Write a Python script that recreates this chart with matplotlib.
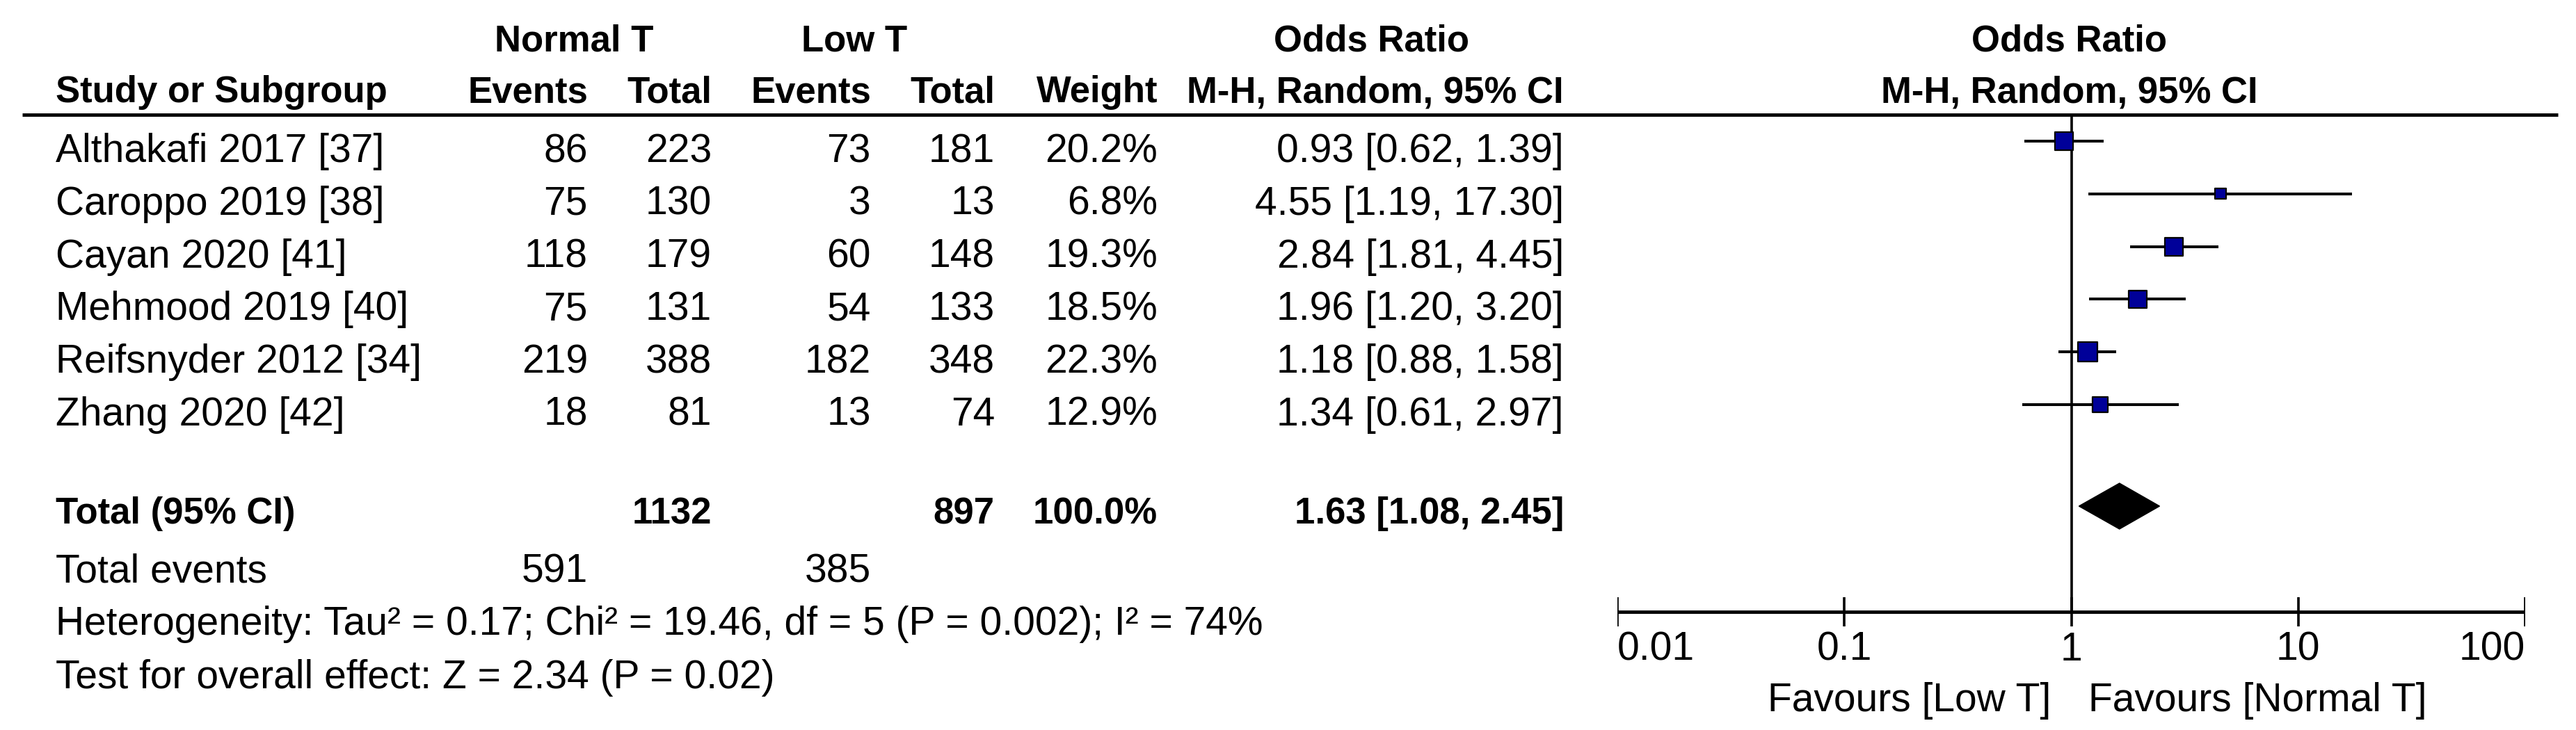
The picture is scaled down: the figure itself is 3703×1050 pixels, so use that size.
import numpy as np
import matplotlib
matplotlib.use("Agg")
import matplotlib.pyplot as plt

plt.rcParams['font.family'] = ['Liberation Sans', 'DejaVu Sans']

# study level data
studies = ["Althakafi 2017 [37]", "Caroppo 2019 [38]", "Cayan 2020 [41]",
           "Mehmood 2019 [40]", "Reifsnyder 2012 [34]", "Zhang 2020 [42]"]
normal_events = [86, 75, 118, 75, 219, 18]
normal_total = [223, 130, 179, 131, 388, 81]
low_events = [73, 3, 60, 54, 182, 13]
low_total = [181, 13, 148, 133, 348, 74]
weights = [20.2, 6.8, 19.3, 18.5, 22.3, 12.9]
odds = [0.93, 4.55, 2.84, 1.96, 1.18, 1.34]
ci_low = [0.62, 1.19, 1.81, 1.20, 0.88, 0.61]
ci_high = [1.39, 17.30, 4.45, 3.20, 1.58, 2.97]

# pooled result
total_or = 1.63
total_ci = [1.08, 2.45]
total_n = [1132, 897]
total_ev = [591, 385]
total_weight = 100.0
het_text = "Heterogeneity: Tau\u00b2 = 0.17; Chi\u00b2 = 19.46, df = 5 (P = 0.002); I\u00b2 = 74%"
effect_text = "Test for overall effect: Z = 2.34 (P = 0.02)"

axis_ticks = [0.01, 0.1, 1, 10, 100]
axis_labels = ["0.01", "0.1", "1", "10", "100"]

W, H = 3703, 1050
FS = 41
FSB = 38

fig = plt.figure(figsize=(W / 100, H / 100), dpi=100)
ax = fig.add_axes([0, 0, 1, 1])
ax.set_xlim(0, W)
ax.set_ylim(H, 0)
ax.axis('off')


def put(x, y, s, ha='left', bold=False):
    # y is the middle of the capitals, text sits on its baseline
    ax.text(x, y + 20, s, ha=ha, va='baseline',
            fontsize=FSB if bold else FS,
            fontweight='bold' if bold else 'normal')


# column right edges (pixels)
c_name = 80
c_nev, c_ntot, c_lev, c_ltot, c_w, c_ci = 845, 1023, 1252, 1430, 1664, 2248

# header
put(825, 54, "Normal T", 'center', True)
put(1228, 54, "Low T", 'center', True)
put(1972, 54, "Odds Ratio", 'center', True)
put(2975, 54, "Odds Ratio", 'center', True)
put(c_name, 127, "Study or Subgroup", 'left', True)
put(c_nev, 127, "Events", 'right', True)
put(c_ntot, 127, "Total", 'right', True)
put(c_lev, 127, "Events", 'right', True)
put(c_ltot, 127, "Total", 'right', True)
put(c_w, 127, "Weight", 'right', True)
put(c_ci, 127, "M-H, Random, 95% CI", 'right', True)
put(2975, 127, "M-H, Random, 95% CI", 'center', True)
ax.plot([32, 3677], [165, 165], color='black', lw=3.5, solid_capstyle='butt')

row_y = 213 + 75.8 * np.arange(len(studies))
for i, y in enumerate(row_y):
    put(c_name, y, studies[i])
    put(c_nev, y, str(normal_events[i]), 'right')
    put(c_ntot, y, str(normal_total[i]), 'right')
    put(c_lev, y, str(low_events[i]), 'right')
    put(c_ltot, y, str(low_total[i]), 'right')
    put(c_w, y, f"{weights[i]:.1f}%", 'right')
    put(c_ci, y, f"{odds[i]:.2f} [{ci_low[i]:.2f}, {ci_high[i]:.2f}]", 'right')

# totals
put(c_name, 733, "Total (95% CI)", 'left', True)
put(c_ntot, 733, str(total_n[0]), 'right', True)
put(c_ltot, 733, str(total_n[1]), 'right', True)
put(c_w, 733, f"{total_weight:.1f}%", 'right', True)
put(c_ci, 733, f"{total_or:.2f} [{total_ci[0]:.2f}, {total_ci[1]:.2f}]", 'right', True)
put(c_name, 817, "Total events")
put(c_nev, 817, str(total_ev[0]), 'right')
put(c_lev, 817, str(total_ev[1]), 'right')
put(c_name, 893, het_text)
put(c_name, 970, effect_text)

# forest plot on a log axis
fax = fig.add_axes([2325 / W, 0, 1305 / W, 1])
fax.set_xscale('log')
fax.set_xlim(0.01, 100)
fax.set_ylim(H, 0)
fax.axis('off')
fax.patch.set_alpha(0)

mark_y = row_y - 10
fax.hlines(mark_y, ci_low, ci_high, color='black', lw=2.9, zorder=2)
side = 5.9 * np.sqrt(weights) * 0.72
fax.scatter(odds, mark_y, marker='s', s=side ** 2, c='#000099',
            edgecolors='black', linewidths=1.6, zorder=3)

fax.vlines(1, 165, 880, color='black', lw=2.6, zorder=1)

# pooled diamond
fax.fill([total_ci[0], total_or, total_ci[1], total_or],
         [728, 695, 728, 761], color='black', zorder=3)

# axis
fax.hlines(880, axis_ticks[0], axis_ticks[-1], color='black', lw=3.5)
fax.vlines(axis_ticks, 859, 901, color='black', lw=2.6)
for k, (t, lab) in enumerate(zip(axis_ticks, axis_labels)):
    ha = 'left' if k == 0 else ('right' if k == len(axis_ticks) - 1 else 'center')
    fax.text(t, 950, lab, ha=ha, va='baseline', fontsize=FS)

fax.annotate("Favours [Low T]", xy=(1, 1023), xytext=(-21, 0),
             textcoords='offset points', ha='right', va='baseline', fontsize=FS)
fax.annotate("Favours [Normal T]", xy=(1, 1023), xytext=(18, 0),
             textcoords='offset points', ha='left', va='baseline', fontsize=FS)

fig.savefig("out.png", dpi=100, facecolor='white')
